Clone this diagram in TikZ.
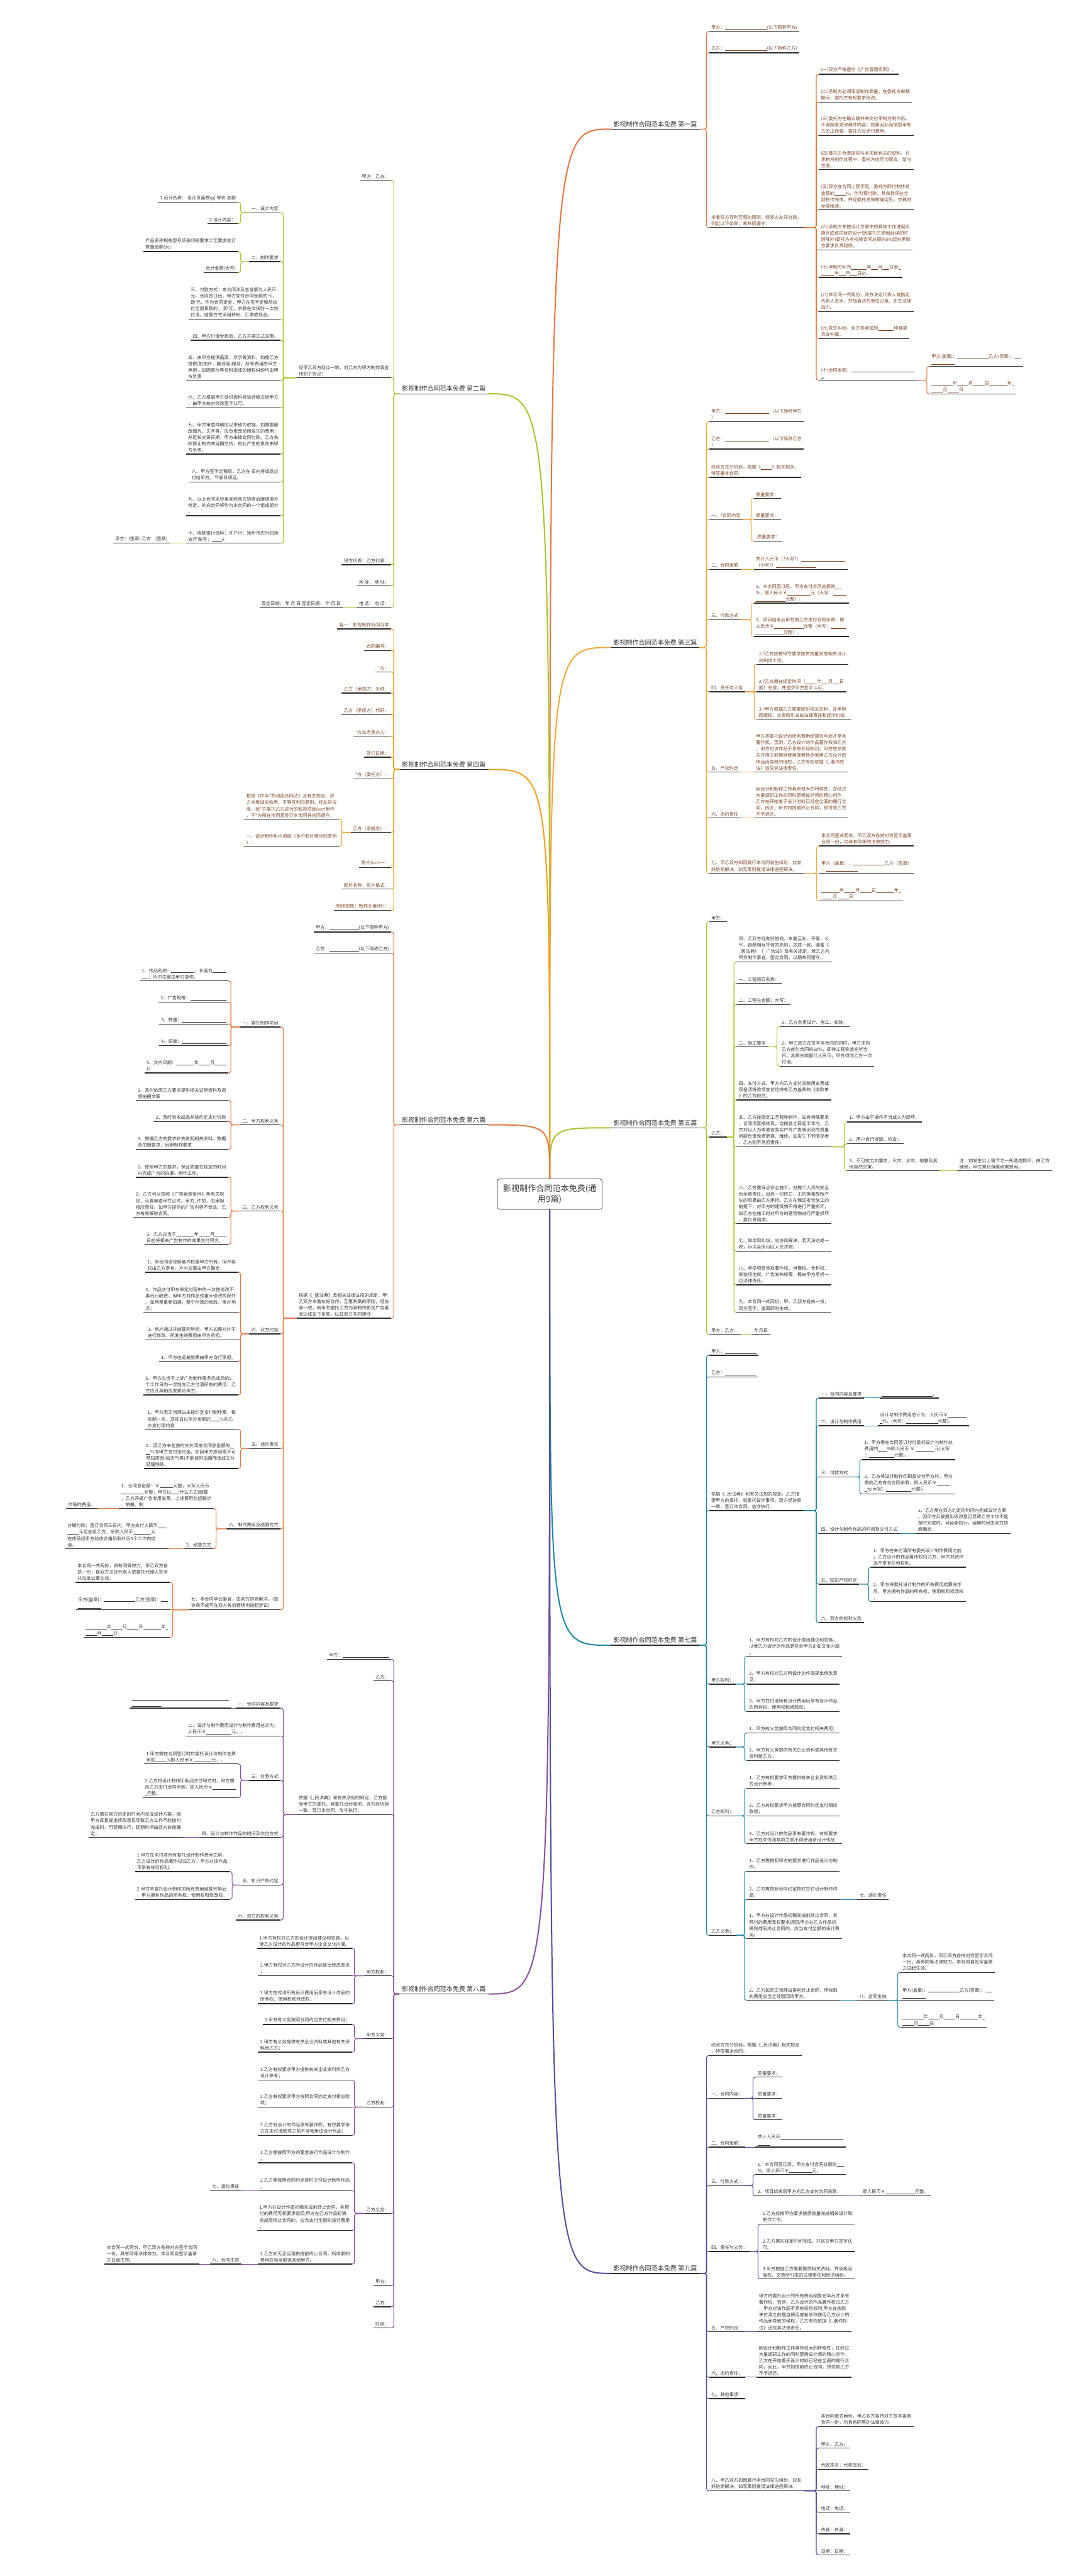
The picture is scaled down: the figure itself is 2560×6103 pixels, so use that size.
\documentclass[tikz,border=0pt]{standalone}
\usepackage{fontspec}
\setmainfont{Noto Sans CJK SC}
\usetikzlibrary{positioning}
\usepackage{xcolor}
\definecolor{lnRed}{HTML}{E8773F}
\definecolor{lnLime}{HTML}{A8C62C}
\definecolor{lnGold}{HTML}{F2A73A}
\definecolor{lnAmber}{HTML}{F0A11E}
\definecolor{lnTeal}{HTML}{1D87A5}
\definecolor{lnPlum}{HTML}{8B4F9C}
\definecolor{lnNavy}{HTML}{50509A}
\definecolor{txBrown}{HTML}{7B4421}
\definecolor{txDark}{HTML}{333333}
\definecolor{ulDark}{HTML}{2B2B2B}
\newcommand{\lfont}{\fontsize{10.7}{15}\selectfont}
\newcommand{\hfont}{\fontsize{15}{19}\selectfont}
\newcommand{\cfont}{\fontsize{19.5}{26}\selectfont}
\newcommand{\blank}[1]{\rule[-1pt]{#1pt}{0.6pt}}

\begin{document}
\begin{tikzpicture}[
  x=1pt, y=-1pt,
  ul/.style={append after command={(\tikzlastnode.south west) edge[draw=ulDark, line width=2] (\tikzlastnode.south east)}},
  lf/.style={anchor=south west, align=left, font=\lfont, text=txDark, inner xsep=5, inner ysep=4, ul},
  lfl/.style={lf, anchor=south east},
  hd/.style={anchor=south west, font=\hfont, text=txDark, inner xsep=6, inner ysep=5, ul},
  hdl/.style={hd, anchor=south east},
  hub/.style={draw=gray!60!black, rounded corners=6, line width=1.2, fill=white, font=\cfont,
              text=txDark, align=center, minimum width=249, minimum height=72},
  br/.style={draw=#1, line width=3},
  cn/.style={draw=#1, line width=1.6, rounded corners=5}
]
\useasboundingbox (0,0) rectangle (2560,6103);
\fill[white] (0,0) rectangle (2560,6103);

\node[hub] (root) at (1302.5,2829) {影视制作合同范本免费(通\\用9篇)};

\node[hd] (a) at (1447,306) {影视制作合同范本免费 第一篇};
\node[hdl] (b) at (1157,933) {影视制作合同范本免费 第二篇};
\node[hd] (c) at (1447,1534) {影视制作合同范本免费 第三篇};
\node[hdl] (d) at (1157,1823) {影视制作合同范本免费 第四篇};
\node[hd] (e) at (1447,2672) {影视制作合同范本免费 第五篇};
\node[hdl] (f) at (1157,2665) {影视制作合同范本免费 第六篇};
\node[hd] (g) at (1447,3898) {影视制作合同范本免费 第七篇};
\node[hdl] (h) at (1157,4724) {影视制作合同范本免费 第八篇};
\node[hd] (k) at (1447,5386) {影视制作合同范本免费 第九篇};

\draw[br=lnRed] (root.north) .. controls (root.north |- a.south west) .. (a.south west);
\draw[br=lnLime] (root.north) .. controls (root.north |- b.south east) .. (b.south east);
\draw[br=lnGold] (root.north) .. controls (root.north |- c.south west) .. (c.south west);
\draw[br=lnAmber] (root.north) .. controls (root.north |- d.south east) .. (d.south east);
\draw[br=lnLime] (root.north) .. controls (root.north |- e.south west) .. (e.south west);
\draw[br=lnRed] (root.north) .. controls (root.north |- f.south east) .. (f.south east);
\draw[br=lnTeal] (root.south) .. controls (root.south |- g.south west) .. (g.south west);
\draw[br=lnPlum] (root.south) .. controls (root.south |- h.south east) .. (h.south east);
\draw[br=lnNavy] (root.south) .. controls (root.south |- k.south west) .. (k.south west);

\begin{scope}[lf/.append style={text=txBrown}]
\node[lf] (a1) at (1680,75) {甲方：\blank{100}(以下简称甲方)};
\node[lf] (a2) at (1680,125) {乙方：\blank{100}(以下简称乙方)};
\node[lf] (a3) at (1680,539) {本着双方互利互惠的原则，经双方友好协商，\\列定以下条款，希共同遵守：};
\node[lf] (a3a) at (1940,176) {(一)双方严格遵守《广告管理条例》。};
\node[lf] (a3b) at (1940,242) {(二)承制方必须保证制作质量，在委托方审稿\\期间，委托方有权要求修改。};
\node[lf] (a3c) at (1940,321) {(三)委托方在确认稿件并交付承制方制作后，\\不得随意更改稿件内容，如果因此而增加承制\\方的工作量，委托方应另付费用。};
\node[lf] (a3d) at (1940,402) {(四)委托方负责提供与本项目有关的资料，在\\承制方制作过程中，委托方应尽力配合，给与\\方便。};
\node[lf] (a3e) at (1940,497) {(五)双方在合同上签字后，委托方即付制作总\\金额的\blank{26}\%，作为预付款，其余款项在全\\部制作完成，并经委托方审核确定后，交稿时\\全部结清。};
\node[lf] (a3f) at (1940,592) {(六)承制方未按设计方案中的具体工作进程实\\施完成该项目的设计(因委托方原因延误的时\\间除外)委托方有权按合同总额的5\%起向承制\\方要求负责赔偿。};
\node[lf] (a3g) at (1940,657) {(七)承制时间为\blank{37}年\blank{16}月\blank{16}日至\blank{5}\\\blank{32}年\blank{16}月\blank{16}日止。};
\node[lf] (a3h) at (1940,738) {(八)本合同一式两份，双方法定代表人或指定\\代表人签字，并加盖双方单位公章，即生法律\\效力。};
\node[lf] (a3i) at (1940,802) {(九)发生纠纷，双方协商或到\blank{37}仲裁委\\员会仲裁。};
\node[lf] (a3j) at (1940,901) {(十)合同金额：\blank{150}\\\blank{5}。};
\node[lf] (a3j1) at (2202,868) {甲方(盖章)：\blank{75}乙方(签章)：\blank{16}\\\blank{55}};
\node[lf] (a3j2) at (2202,933) {\blank{50}年\blank{27}月\blank{27}日\blank{43}年\blank{5}\\\blank{27}月\blank{27}日};

\node[lf] (c1) at (1680,999) {甲方：\blank{105} （以下简称甲方\\）};
\node[lf] (c2) at (1680,1064) {乙方：\blank{105} （以下简称乙方\\）};
\node[lf] (c3) at (1680,1131) {经双方充分协商，根据《\blank{26}》相关规定，\\特签署本合同。};
\node[lf] (c4) at (1680,1231) {一、?合同内容};
\node[lf] (c4a) at (1786,1181) {质量要求：};
\node[lf] (c4b) at (1786,1231) {质量要求：};
\node[lf] (c4c) at (1786,1282) {;质量要求：};
\node[lf] (c5) at (1680,1349) {二、合同金额};
\node[lf] (c5a) at (1786,1349) {共计人民币（?大写?）\blank{105}\\（小写?）\blank{95}};
\node[lf] (c6) at (1680,1468) {三、付款方式};
\node[lf] (c6a) at (1786,1429) {1、本合同签订后，甲方支付合同总额的\blank{16}\\\%，即人民币￥\blank{55}元（大写：\blank{32}\\\blank{70}元整）。};
\node[lf] (c6b) at (1786,1508) {2、项目结束后甲方向乙方支付合同余款，即\\人民币￥\blank{70}元整（大写：\blank{38}\\\blank{65}元整）。};
\node[lf] (c7) at (1680,1639) {四、责任与义务};
\node[lf] (c7a) at (1793,1574) {1.?乙方应按甲方要求按质按量完成相关设计\\和制作工作。};
\node[lf] (c7b) at (1793,1639) {2.?乙方需在规定时间（\blank{27}年\blank{16}月\blank{16}日\\前）完成，并送交甲方签字认可。};
\node[lf] (c7c) at (1793,1704) {3.?甲方根据乙方需要提供相关资料，并承担\\因版权、文责所引发的法律责任和经济纠纷。};
\node[lf] (c8) at (1680,1829) {五、产权约定};
\node[lf] (c8a) at (1786,1829) {甲方将委托设计的所有费用结算完毕后才享有\\著作权，否则，乙方设计的作品著作权归乙方\\，甲方对该作品不享有任何权利；甲方在余款\\未付清之前擅自使用或者修改使用乙方设计的\\作品而导致的侵权，乙方有权依据《\_著作权\\法》追究其法律责任。};
\node[lf] (c9) at (1680,1938) {六、违约责任};
\node[lf] (c9a) at (1786,1938) {因设计和制作工作具有很大的特殊性，在经过\\大量调研工作的同时更需设计师的精心创作，\\乙方在开始着手设计时就已经在全面的履行合\\同，因此，甲方如提前终止合同，预付款乙方\\不予退还。};
\node[lf] (c10) at (1680,2069) {七、甲乙双方如因履行本合同发生纠纷，应友\\好协商解决，如无果则提请法律途径解决。};
\node[lf] (c10a) at (1941,2004) {本合同壹式两份，甲乙双方各持对方签字盖章\\合同一份，均具有同等的法律效力。};
\node[lf] (c10b) at (1941,2069) {甲方（盖章）：\blank{75}乙方（签章）\\：\blank{75}};
\node[lf] (c10c) at (1941,2134) {\blank{43}年\blank{27}月\blank{27}日\blank{43}年\blank{5}\\\blank{27}月\blank{27}日};

\node[lfl] (d1) at (927,1490) {篇一：影视制作合同范本};
\node[lfl] (d2) at (927,1541) {合同编号：};
\node[lfl] (d3) at (927,1592) {*方：};
\node[lfl] (d4) at (927,1642) {乙方（承揽方）名称：};
\node[lfl] (d5) at (927,1693) {乙方（承揽方）代码：};
\node[lfl] (d6) at (927,1744) {*方业务承办人：};
\node[lfl] (d7) at (927,1794) {签订日期：};
\node[lfl] (d8) at (927,1845) {*方（委托方）：};
\node[lfl] (d9) at (927,1972) {乙方（承揽方）：};
\node[lfl] (d9a) at (803,1941) {根据《中华*共和国合同法》及有关规定，双\\方本着诚实信用、平等互利的原则，经友好协\\商，就*方委托乙方进行的影视项目(vcr)制作\\，于*方所在地同意签订本合同并共同遵守。};
\node[lfl] (d9b) at (803,2005) {一、设计制作影片项目（多个影片需分别罗列\\）：};
\node[lfl] (d10) at (927,2055) {影片(vcr)一：};
\node[lfl] (d11) at (927,2106) {影片名称：影片格式：};
\node[lfl] (d12) at (927,2157) {制作规格：制作长度(秒)：};
\end{scope}

\node[lfl] (b1) at (927,427) {甲方：乙方：};
\node[lfl] (b2) at (927,895) {经甲乙双方商议一致，对乙方为甲方制作事宜\\作如下协议：};
\node[lfl] (b2a) at (665,504) {一、设计内容};
\node[lfl] (b2a1) at (564,479) {1.设计名称：\ 设计页面数(p) 单价 总额};
\node[lfl] (b2a2) at (564,530) {2.设计内容：};
\node[lfl] (b2b) at (665,620) {二、制作要求};
\node[lfl] (b2b1) at (564,596) {产品名称规格型号纸张印刷要求工艺要求装订\\数量金额(元)};
\node[lfl] (b2b2) at (564,646) {合计金额(大写)};
\node[lfl] (b2c) at (665,756) {三、付款方式：本合同涉及总金额为人民币\\元，合同签订后，甲方支付合同金额的 \%，\\即 元，作为合同定金，甲方在签字定稿后应\\付全部货款的 ，即 元，余额在交货时一次性\\付清。结算方式采用转帐、汇票或现金。};
\node[lfl] (b2d) at (665,806) {四、甲方付清全款后，乙方开据正式发票。};
\node[lfl] (b2e) at (665,901) {五、由甲方提供画面、文字等资料，如需乙方\\提供(如拍片、翻译等)服务，所有费用由甲方\\承担，如因照片等资料造成的版权纠纷均由甲\\方负责};
\node[lfl] (b2f) at (665,966) {六、乙方根据甲方提供资料将设计稿交给甲方\\，由甲方校对修改签字认可。};
\node[lfl] (b2g) at (665,1076) {七、甲方审查样稿应以来稿为依据，如需要删\\改图片、文字等，应负责改动所发生的费用，\\并延长交货日期，甲方未按合同付款，乙方有\\权停止制作并延期交货，由此产生的责任由甲\\方负责。};
\node[lfl] (b2h) at (665,1142) {八、甲方签字定稿后，乙方在 日内将成品交\\付给甲方，节假日顺延。};
\node[lfl] (b2i) at (665,1222) {九、以上合同未尽事宜经双方协商后继续增补\\修定，补充合同将作为本合同的一个组成部分\\。};
\node[lfl] (b2j) at (665,1287) {十、收款银行资料：开户行：扬州市农行润扬\\支行 账号：\blank{25}x};
\node[lfl] (b2j1) at (402,1287) {甲方：(签章) 乙方：(签章)};
\node[lfl] (b3) at (927,1338) {甲方代表：乙方代表：};
\node[lfl] (b4) at (927,1388) {地 址： 地 址：};
\node[lfl] (b5) at (927,1439) {电 话： 电 话：};
\node[lfl] (b5a) at (813,1439) {签定日期： 年 月 日 签定日期： 年 月 日};

\node[lf] (e1) at (1680,2184) {甲方：};
\node[lf] (e2) at (1680,2694) {乙方：};
\node[lf] (e2a) at (1745,2279) {甲、乙双方经友好协商，本着互利、平等、公\\平、自愿相互守信的原则，达成一致。遵循《\\\_民法典》《\_广告法》及有关规定，就乙方为\\甲方制作事宜，签定合同，以期共同遵守。};
\node[lf] (e2b) at (1745,2330) {一、工程项目名称：};
\node[lf] (e2c) at (1745,2380) {二、工程总金额：大写：};
\node[lf] (e2d) at (1745,2480) {三、施工要求};
\node[lf] (e2d1) at (1847,2432) {1、乙方负责设计、施工、安装。};
\node[lf] (e2d2) at (1847,2526) {2、甲乙双方在签写本合同的同时，甲方须向\\乙方首付合同的50\%，即待工程安装完毕当\\日，其剩余款额计人民币，甲方须向乙方一次\\付清。};
\node[lf] (e2e) at (1745,2606) {四、支付方式：甲方向乙方支付货款用支票或\\现金须将款项支付给持有乙方盖章的《收款单\\》的乙方职员。};
\node[lf] (e2f) at (1745,2717) {五、乙方按固定工艺程序制作，如有特殊要求\\，合同须直接体现，自按装之日起半年内，乙\\方对以人为本诚信务实户外广告牌出现的质量\\问题负责免费更换、维修，如发生下列情况者\\，乙方则不承担责任：};
\node[lf] (e2f1) at (2007,2658) {1、甲方由于操作不当或人为损坏；};
\node[lf] (e2f2) at (2007,2710) {2、用户自行拆卸、检查；};
\node[lf] (e2f3) at (2007,2774) {3、不可抗力如雷击、火灾、水灾、地震及其\\他自然灾害。};
\node[lf] (e2f3a) at (2268,2774) {注：如发生以上情节之一所造成损坏，由乙方\\维修，甲方需负担维修需费用。};
\node[lf] (e2g) at (1745,2899) {六、乙方要保证安全施工，对施工人员的安全\\负全部责任，出现一切伤亡、工伤等事故所产\\生的后果由乙方承担。乙方在保证安全施工的\\前提下，对甲方的建筑物不得进行严重损坏，\\如乙方在施工时对甲方的建筑物进行严重损坏\\，要负责赔偿。};
\node[lf] (e2h) at (1745,2964) {七、如出现纠纷，应协商解决，若无法达成一\\致，诉讼至房山区人民法院。};
\node[lf] (e2i) at (1745,3044) {八、承揽项目涉及著作权、肖像权、专利权、\\安装场地权、广告发布权等，概由甲方承担一\\切法律责任。};
\node[lf] (e2j) at (1745,3109) {九、本合同一式两份，甲、乙双方各执一份，\\双方签字，盖章即时生效。};
\node[lf] (e3) at (1680,3161) {甲方：乙方：};
\node[lf] (e3a) at (1782,3161) {年月日};

\node[lfl] (f1) at (927,2208) {甲方：\blank{70}(以下简称甲方)};
\node[lfl] (f2) at (927,2258) {乙方：\blank{70}(以下简称乙方)};
\node[lfl] (f3) at (927,3123) {根据《\_民法典》及相关法律法规的规定，甲\\乙双方本着友好合作，互惠共赢的原则，经协\\商一致，就甲方委托乙方为其制作影视广告事\\宜达成如下条款，以兹双方共同遵守：};
\node[lfl] (f3a) at (665,2433) {一、委托制作项目};
\node[lfl] (f3a1) at (541,2324) {1、作品名称：\blank{55}，长度为\blank{32}\\\blank{16}，片中文案由甲方提供。};
\node[lfl] (f3a2) at (541,2374) {2、广告规格：\blank{85}};
\node[lfl] (f3a3) at (541,2426) {3、数量：\blank{105}};
\node[lfl] (f3a4) at (541,2477) {4、语版：\blank{105}};
\node[lfl] (f3a5) at (541,2542) {5、交片日期：\blank{43}年\blank{27}月\blank{27}\\日};
\node[lfl] (f3b) at (665,2665) {二、甲方权利义务};
\node[lfl] (f3b1) at (541,2607) {1、及时依照乙方要求提供相关证明资料及视\\频拍摄文案};
\node[lfl] (f3b2) at (541,2657) {2、及时验收成品并按约定支付价款};
\node[lfl] (f3b3) at (541,2723) {3、根据乙方的要求补充说明相关资料、数据\\及拍摄要求，后期制作要求};
\node[lfl] (f3c) at (665,2869) {三、乙方权利义务};
\node[lfl] (f3c1) at (541,2789) {1、按照甲方的要求，保证质量在规定的时间\\内完成广告的拍摄、制作工作。};
\node[lfl] (f3c2) at (541,2884) {2、乙方可以按照《广告管理条例》等有关规\\定，认真审查甲方证件。甲方\_件的，应承担\\相应责任。如甲方提供的广告内容不合法，乙\\方有权解除合同。};
\node[lfl] (f3c3) at (541,2948) {3、乙方应当于\blank{43}年\blank{27}月\blank{27}\\日前将相关广告制作的成果交付甲方。};
\node[lfl] (f3d) at (665,3160) {四、双方约定};
\node[lfl] (f3d1) at (564,3014) {1、本合同该视频著作权属甲方所有，但评奖\\权由乙方享有，片中文案由甲方确定。};
\node[lfl] (f3d2) at (564,3109) {2、作品交付甲方审定过程中的一次性修改不\\再另行收费，但甲方对作品作重大修改的除外\\。如场景重新拍摄，整个创意的修改。审片地\\点：};
\node[lfl] (f3d3) at (564,3174) {3、审片通过并结算完毕后，甲方如需对片子\\进行修改，所发生的费用由甲方承担。};
\node[lfl] (f3d4) at (564,3225) {4、甲方往返差旅费由甲方自行承担。};
\node[lfl] (f3d5) at (564,3305) {5、甲方应当于上诉广告制作服务完成后的5\\个工作日内一次性向乙方付清所有的费用，乙\\方应开具相应发票给甲方。};
\node[lfl] (f3e) at (665,3432) {五、违约责任};
\node[lfl] (f3e1) at (564,3386) {1、甲方无正当理由未按约定支付制作费，每\\逾期一天，须按日以拖欠金额的\blank{21}\%向乙\\方支付违约金};
\node[lfl] (f3e2) at (564,3479) {2、因乙方未能按时交片须按合同总金额的\blank{10}\\\blank{10}\%向甲方支付违约金，如因甲方原因或不可\\预知原因(如天气等)不能按时拍摄而造成交片\\延缓除外。};
\node[lfl] (f3f) at (665,3622) {六、制作费用及结算方式};
\node[lfl] (f3f1) at (506,3574) {1、合同总金额：￥\blank{32}元整，大写人民币\\\blank{55}元整，甲方以\blank{16}(什么方式)结算\\，乙方开据广告专用发票。上述费用包括脚步\\、拍摄、制};
\node[lfl] (f3f1a) at (231,3574) {作等的费用。};
\node[lfl] (f3f2) at (506,3669) {2、结算方式};
\node[lfl] (f3f2a) at (400,3669) {分期付款：签订合同三日内，甲方支付人民币\blank{21}\\\blank{27}元定金给乙方，余款人民币\blank{43}元\\在成品经甲方验收合格后取片后5个工作内结\\清。};
\node[lfl] (f3g) at (665,3814) {七、本合同争议事宜，由双方协商解决。(如\\协商不成可在双方各自管辖地提起诉讼)};
\node[lfl] (f3g1) at (403,3749) {本合同一式两份，具有同等效力，甲乙双方各\\执一份，自双方法定代表人或委托代理人签字\\并加盖公章生效。};
\node[lfl] (f3g2) at (403,3814) {甲方(盖章)：\blank{75}乙方(签章)：\blank{16}\\\blank{55}};
\node[lfl] (f3g3) at (403,3879) {\blank{50}年\blank{27}月\blank{27}日\blank{43}年\blank{5}\\\blank{27}月\blank{27}日};

\node[lf] (g1) at (1680,3211) {甲方：\blank{75}};
\node[lf] (g2) at (1680,3262) {乙方：\blank{75}};
\node[lf] (g3) at (1680,3579) {依据《\_民法典》和有关法规的规定，乙方接\\受甲方的委托，就委托设计事项，双方经协商\\一致，签订本合同，信守执行：};
\node[lf] (g3a) at (1940,3312) {一、合同内容及要求};
\node[lf] (g3a1) at (2084,3312) {\blank{120}。};
\node[lf] (g3b) at (1940,3378) {二、设计与制作费用};
\node[lf] (g3b1) at (2080,3378) {设计与制作费用总计为：人民币￥\blank{45}\\\blank{5}元，(大写：\blank{75}元整)。};
\node[lf] (g3c) at (1940,3499) {三、付款方式};
\node[lf] (g3c1) at (2043,3458) {1、甲方需在合同签订时付委托设计与制作总\\费用的\blank{21}\%即人民币 ￥ \blank{45}元(大写\\：\blank{60}元整)。};
\node[lf] (g3c2) at (2043,3539) {2、乙方将设计制作印刷品交付甲方时，甲方\\需向乙方支付合同余款，即人民币￥\blank{32}\\\blank{5}元(大写：\blank{60}元整)。};
\node[lf] (g3d) at (1940,3633) {四、设计与制作作品的时间及交付方式};
\node[lf] (g3d1) at (2170,3633) {1、乙方需在双方约定的时间内完成设计方案\\。因甲方反复提出修改意见导致乙方工作不能\\按时完成时，可延期执行，延期时间由双方协\\商确定。};
\node[lf] (g3e) at (1940,3753) {五、知识产权约定};
\node[lf] (g3e1) at (2064,3713) {1、甲方在未付清所有委托设计制作费用之前\\，乙方设计的作品著作权归乙方，甲方对该作\\品不享有任何权利。};
\node[lf] (g3e2) at (2064,3794) {2、甲方将委托设计制作的所有费用结算完毕\\后，甲方拥有作品的所有权、使用权和修改权\\。};
\node[lf] (g3f) at (1940,3844) {六、双方的权利义务};
\node[lf] (g4) at (1680,3990) {甲方权利：};
\node[lf] (g4a) at (1770,3924) {1、甲方有权对乙方的设计提出建议和思路，\\以使乙方设计的作品更符合甲方企业文化内涵\\。};
\node[lf] (g4b) at (1770,3990) {2、甲方有权对乙方所设计的作品提出修改意\\见；};
\node[lf] (g4c) at (1770,4055) {3、甲方在付清所有设计费用后享有设计作品\\的所有权、使用权和修改权；};
\node[lf] (g5) at (1680,4139) {甲方义务：};
\node[lf] (g5a) at (1770,4106) {1、甲方有义务按照合同约定支付相关费用；};
\node[lf] (g5b) at (1770,4171) {2、甲方有义务提供有关企业资料或其他有关\\资料给乙方；};
\node[lf] (g6) at (1680,4302) {乙方权利：};
\node[lf] (g6a) at (1770,4237) {1、乙方有权要求甲方提供有关企业资料供乙\\方设计参考；};
\node[lf] (g6b) at (1770,4302) {2、乙方有权要求甲方按照合同约定支付相应\\款项；};
\node[lf] (g6c) at (1770,4368) {3、乙方对设计的作品享有著作权，有权要求\\甲方在未付清款项之前不得使用该设计作品：};
\node[lf] (g7) at (1680,4585) {乙方义务：};
\node[lf] (g7a) at (1770,4433) {1、乙方需按照甲方的要求进行作品设计与制\\作。};
\node[lf] (g7b) at (1770,4500) {2、乙方需按照合同约定按时交付设计制作作\\品。};
\node[lf] (g7b1) at (2031,4500) {七、违约责任};
\node[lf] (g7c) at (1770,4593) {1、甲方在设计作品初稿完成前终止合同，其\\预付的费用无权要求退回;甲方在乙方作品初\\稿完成后终止合同的，应当支付全额的设计费\\用。};
\node[lf] (g7d) at (1770,4739) {2、乙方如无正当理由提前终止合同，所收取\\的费用应当全部退回给甲方。};
\node[lf] (g7d1) at (2031,4739) {八、合同生效};
\node[lf] (g7d1a) at (2133,4673) {本合同一式两份，甲乙双方各持对方签字合同\\一份，具有同等法律效力。本合同自签字盖章\\之日起生效。};
\node[lf] (g7d1b) at (2133,4739) {甲方(盖章)：\blank{75}乙方(签章)：\blank{16}\\\blank{55}};
\node[lf] (g7d1c) at (2133,4803) {\blank{50}年\blank{27}月\blank{27}日\blank{43}年\blank{5}\\\blank{27}月\blank{27}日};

\node[lfl] (h1) at (927,3931) {甲方：\blank{110}};
\node[lfl] (h2) at (927,3982) {乙方：};
\node[lfl] (h3) at (927,4299) {依据《\_民法典》和有关法规的规定，乙方接\\受甲方的委托，就委托设计事项，双方经协商\\一致，签订本合同，信守执行：};
\node[lfl] (h3a) at (665,4047) {一、合同内容及要求};
\node[lfl] (h3a1) at (548,4047) {\blank{230}\\\blank{68}};
\node[lfl] (h3b) at (665,4113) {二、设计与制作费用设计与制作费用总计为：\\人民币￥\blank{60}元，。};
\node[lfl] (h3c) at (665,4218) {三、付款方式};
\node[lfl] (h3c1) at (564,4179) {1.甲方需在合同签订时付委托设计与制作总费\\用的\blank{27}\%即人民币￥\blank{43}元，。};
\node[lfl] (h3c2) at (564,4259) {2.乙方将设计制作印刷品交付甲方时，甲方需\\向乙方支付合同余款，即人民币￥\blank{55}\\\blank{5}元整。};
\node[lfl] (h3d) at (665,4353) {四、设计与制作作品的时间及交付方式};
\node[lfl] (h3d1) at (434,4353) {乙方需在双方约定的时间内完成设计方案。因\\甲方反复提出修改意见导致乙方工作不能按时\\完成时，可延期执行，延期时间由双方协商确\\定。};
\node[lfl] (h3e) at (665,4466) {五、知识产权约定};
\node[lfl] (h3e1) at (544,4434) {1.甲方在未付清所有委托设计制作费用之前，\\乙方设计的作品著作权归乙方，甲方对该作品\\不享有任何权利。};
\node[lfl] (h3e2) at (544,4500) {2.甲方将委托设计制作的所有费用结算完毕后\\，甲方拥有作品的所有权、使用权和修改权。};
\node[lfl] (h3f) at (665,4549) {六、双方的权利义务};
\node[lfl] (h4) at (927,4681) {甲方权利：};
\node[lfl] (h4a) at (834,4616) {1.甲方有权对乙方的设计提出建议和思路，以\\使乙方设计的作品更符合甲方企业文化内涵。};
\node[lfl] (h4b) at (834,4681) {2.甲方有权对乙方所设计的作品提出修改意见\\；};
\node[lfl] (h4c) at (834,4747) {3.甲方在付清所有设计费用后享有设计作品的\\所有权、使用权和修改权；};
\node[lfl] (h5) at (927,4830) {甲方义务：};
\node[lfl] (h5a) at (834,4796) {1.甲方有义务按照合同约定支付相关费用；};
\node[lfl] (h5b) at (834,4862) {2.甲方有义务提供有关企业资料或其他有关资\\料给乙方；};
\node[lfl] (h6) at (927,4992) {乙方权利：};
\node[lfl] (h6a) at (834,4928) {1.乙方有权要求甲方提供有关企业资料供乙方\\设计参考；};
\node[lfl] (h6b) at (834,4992) {2.乙方有权要求甲方按照合同约定支付相应款\\项；};
\node[lfl] (h6c) at (834,5059) {3.乙方对设计的作品享有著作权，有权要求甲\\方在未付清款项之前不得使用该设计作品：};
\node[lfl] (h7) at (927,5244) {乙方义务：};
\node[lfl] (h7a) at (834,5124) {1.乙方需按照甲方的要求进行作品设计与制作\\。};
\node[lfl] (h7b) at (834,5190) {2.乙方需按照合同约定按时交付设计制作作品\\。};
\node[lfl] (h7b1) at (572,5190) {七、违约责任};
\node[lfl] (h7c) at (834,5284) {1.甲方在设计作品初稿完成前终止合同，其预\\付的费用无权要求退回;甲方在乙方作品初稿\\完成后终止合同的，应当支付全额的设计费用\\。};
\node[lfl] (h7d) at (834,5364) {2.乙方如无正当理由提前终止合同，所收取的\\费用应当全部退回给甲方。};
\node[lfl] (h7d1) at (572,5364) {八、合同生效};
\node[lfl] (h7d1a) at (472,5364) {本合同一式两份，甲乙双方各持对方签字合同\\一份，具有同等法律效力。本合同自签字盖章\\之日起生效。};
\node[lfl] (h8) at (927,5415) {甲方：};
\node[lfl] (h9) at (927,5465) {乙方：};
\node[lfl] (h10) at (927,5515) {时间：};

\node[lf] (k1) at (1680,4870) {经双方充分协商，根据《\_民法典》相关规定\\，特签署本合同。};
\node[lf] (k2) at (1680,4971) {一、合同内容：};
\node[lf] (k2a) at (1790,4921) {质量要求：};
\node[lf] (k2b) at (1790,4971) {质量要求：};
\node[lf] (k2c) at (1790,5022) {质量要求：};
\node[lf] (k3) at (1680,5087) {二、合同金额：};
\node[lf] (k3a) at (1790,5087) {共计人民币\blank{150}\\\blank{30}};
\node[lf] (k4) at (1680,5178) {三、付款方式：};
\node[lf] (k4a) at (1790,5152) {1、本合同签订后，甲方支付合同总额的\blank{16}\\\%，即人民币￥\blank{55}元。};
\node[lf] (k4b) at (1790,5202) {2、项目结束后甲方向乙方支付合同余款，};
\node[lf] (k4b1) at (2039,5202) {即人民币￥\blank{70}元整。};
\node[lf] (k5) at (1680,5334) {四、责任与义务：};
\node[lf] (k5a) at (1802,5269) {1.乙方应按甲方要求按质按量完成相关设计和\\制作工作。};
\node[lf] (k5b) at (1802,5334) {2.乙方需在规定时间完成，并送交甲方签字认\\可。};
\node[lf] (k5c) at (1802,5399) {3.甲方根据乙方需要提供相关资料，并承担因\\版权、文责所引发的法律责任和经济纠纷。};
\node[lf] (k6) at (1680,5524) {五、产权约定：};
\node[lf] (k6a) at (1793,5524) {甲方将委托设计的所有费用结算完毕后才享有\\著作权，否则，乙方设计的作品著作权归乙方\\，甲方对该作品不享有任何权利;甲方在余款\\未付清之前擅自使用或者修改使用乙方设计的\\作品而导致的侵权，乙方有权依据《\_著作权\\法》追究其法律责任。};
\node[lf] (k7) at (1680,5632) {六、违约责任：};
\node[lf] (k7a) at (1793,5632) {因设计和制作工作具有很大的特殊性，在经过\\大量调研工作的同时更需设计师的精心创作，\\乙方在开始着手设计时就已经在全面的履行合\\同，因此，甲方如提前终止合同，预付款乙方\\不予退还。};
\node[lf] (k8) at (1680,5683) {七、其他事项：};
\node[lf] (k9) at (1680,5901) {八、甲乙双方如因履行本合同发生纠纷，应友\\好协商解决，如无果则提请法律途径解决。};
\node[lf] (k9a) at (1940,5749) {本合同壹式两份，甲乙双方各持对方签字盖章\\合同一份，均具有同等的法律效力。};
\node[lf] (k9b) at (1940,5800) {甲方：乙方：};
\node[lf] (k9c) at (1940,5850) {代表签名：代表签名：};
\node[lf] (k9d) at (1940,5901) {地址：地址：};
\node[lf] (k9e) at (1940,5952) {电话：电话：};
\node[lf] (k9f) at (1940,6003) {传真：传真：};
\node[lf] (k9g) at (1940,6053) {日期：日期：};

\foreach \q in {a1,a2,a3} \draw[cn=lnRed] (a.south east) -| ([xshift=-6]\q.south west) -- (\q.south west);
\foreach \q in {a3a,a3b,a3c,a3d,a3e,a3f,a3g,a3h,a3i,a3j} \draw[cn=lnRed] (a3.south east) -| ([xshift=-6]\q.south west) -- (\q.south west);
\foreach \q in {a3j1,a3j2} \draw[cn=lnRed] (a3j.south east) -| ([xshift=-6]\q.south west) -- (\q.south west);

\foreach \q in {b1,b2,b3,b4,b5} \draw[cn=lnLime] (b.south west) -| ([xshift=6]\q.south east) -- (\q.south east);
\foreach \q in {b2a,b2b,b2c,b2d,b2e,b2f,b2g,b2h,b2i,b2j} \draw[cn=lnLime] (b2.south west) -| ([xshift=6]\q.south east) -- (\q.south east);
\foreach \q in {b2a1,b2a2} \draw[cn=lnLime] (b2a.south west) -| ([xshift=6]\q.south east) -- (\q.south east);
\foreach \q in {b2b1,b2b2} \draw[cn=lnLime] (b2b.south west) -| ([xshift=6]\q.south east) -- (\q.south east);
\draw[cn=lnLime] (b2j.south west) -- (b2j1.south east);
\draw[cn=lnLime] (b5.south west) -- (b5a.south east);

\foreach \q in {c1,c2,c3,c4,c5,c6,c7,c8,c9,c10} \draw[cn=lnGold] (c.south east) -| ([xshift=-6]\q.south west) -- (\q.south west);
\foreach \q in {c4a,c4c} \draw[cn=lnGold] (c4.south east) -| ([xshift=-6]\q.south west) -- (\q.south west);
\foreach \q in {c6a,c6b} \draw[cn=lnGold] (c6.south east) -| ([xshift=-6]\q.south west) -- (\q.south west);
\foreach \q in {c7a,c7c} \draw[cn=lnGold] (c7.south east) -| ([xshift=-6]\q.south west) -- (\q.south west);
\foreach \q in {c10a,c10c} \draw[cn=lnGold] (c10.south east) -| ([xshift=-6]\q.south west) -- (\q.south west);
\draw[cn=lnGold] (c4.south east) -- (c4b.south west);
\draw[cn=lnGold] (c5.south east) -- (c5a.south west);
\draw[cn=lnGold] (c7.south east) -- (c7b.south west);
\draw[cn=lnGold] (c8.south east) -- (c8a.south west);
\draw[cn=lnGold] (c9.south east) -- (c9a.south west);
\draw[cn=lnGold] (c10.south east) -- (c10b.south west);

\foreach \q in {d1,d2,d3,d4,d5,d6,d7,d8,d9,d10,d11,d12} \draw[cn=lnAmber] (d.south west) -| ([xshift=6]\q.south east) -- (\q.south east);
\foreach \q in {d9a,d9b} \draw[cn=lnAmber] (d9.south west) -| ([xshift=6]\q.south east) -- (\q.south east);

\foreach \q in {e1,e2,e3} \draw[cn=lnLime] (e.south east) -| ([xshift=-6]\q.south west) -- (\q.south west);
\foreach \q in {e2a,e2b,e2c,e2d,e2e,e2f,e2g,e2h,e2i,e2j} \draw[cn=lnLime] (e2.south east) -| ([xshift=-6]\q.south west) -- (\q.south west);
\foreach \q in {e2d1,e2d2} \draw[cn=lnLime] (e2d.south east) -| ([xshift=-6]\q.south west) -- (\q.south west);
\foreach \q in {e2f1,e2f2,e2f3} \draw[cn=lnLime] (e2f.south east) -| ([xshift=-6]\q.south west) -- (\q.south west);
\draw[cn=lnLime] (e2f3.south east) -- (e2f3a.south west);
\draw[cn=lnLime] (e3.south east) -- (e3a.south west);

\foreach \q in {f1,f2,f3} \draw[cn=lnRed] (f.south west) -| ([xshift=6]\q.south east) -- (\q.south east);
\foreach \q in {f3a,f3b,f3c,f3d,f3e,f3f,f3g} \draw[cn=lnRed] (f3.south west) -| ([xshift=6]\q.south east) -- (\q.south east);
\foreach \q in {f3a1,f3a2,f3a3,f3a4,f3a5} \draw[cn=lnRed] (f3a.south west) -| ([xshift=6]\q.south east) -- (\q.south east);
\foreach \q in {f3b1,f3b2,f3b3} \draw[cn=lnRed] (f3b.south west) -| ([xshift=6]\q.south east) -- (\q.south east);
\foreach \q in {f3c1,f3c2,f3c3} \draw[cn=lnRed] (f3c.south west) -| ([xshift=6]\q.south east) -- (\q.south east);
\foreach \q in {f3d1,f3d2,f3d3,f3d4,f3d5} \draw[cn=lnRed] (f3d.south west) -| ([xshift=6]\q.south east) -- (\q.south east);
\foreach \q in {f3e1,f3e2} \draw[cn=lnRed] (f3e.south west) -| ([xshift=6]\q.south east) -- (\q.south east);
\foreach \q in {f3f1,f3f2} \draw[cn=lnRed] (f3f.south west) -| ([xshift=6]\q.south east) -- (\q.south east);
\foreach \q in {f3g1,f3g3} \draw[cn=lnRed] (f3g.south west) -| ([xshift=6]\q.south east) -- (\q.south east);
\draw[cn=lnRed] (f3f1.south west) -- (f3f1a.south east);
\draw[cn=lnRed] (f3f2.south west) -- (f3f2a.south east);
\draw[cn=lnRed] (f3g.south west) -- (f3g2.south east);

\foreach \q in {g1,g2,g3,g4,g5,g6,g7} \draw[cn=lnTeal] (g.south east) -| ([xshift=-6]\q.south west) -- (\q.south west);
\foreach \q in {g3a,g3b,g3c,g3d,g3e,g3f} \draw[cn=lnTeal] (g3.south east) -| ([xshift=-6]\q.south west) -- (\q.south west);
\foreach \q in {g3c1,g3c2} \draw[cn=lnTeal] (g3c.south east) -| ([xshift=-6]\q.south west) -- (\q.south west);
\foreach \q in {g3e1,g3e2} \draw[cn=lnTeal] (g3e.south east) -| ([xshift=-6]\q.south west) -- (\q.south west);
\foreach \q in {g4a,g4c} \draw[cn=lnTeal] (g4.south east) -| ([xshift=-6]\q.south west) -- (\q.south west);
\foreach \q in {g5a,g5b} \draw[cn=lnTeal] (g5.south east) -| ([xshift=-6]\q.south west) -- (\q.south west);
\foreach \q in {g6a,g6c} \draw[cn=lnTeal] (g6.south east) -| ([xshift=-6]\q.south west) -- (\q.south west);
\foreach \q in {g7a,g7b,g7c,g7d} \draw[cn=lnTeal] (g7.south east) -| ([xshift=-6]\q.south west) -- (\q.south west);
\foreach \q in {g7d1a,g7d1c} \draw[cn=lnTeal] (g7d1.south east) -| ([xshift=-6]\q.south west) -- (\q.south west);
\draw[cn=lnTeal] (g3a.south east) -- (g3a1.south west);
\draw[cn=lnTeal] (g3b.south east) -- (g3b1.south west);
\draw[cn=lnTeal] (g3d.south east) -- (g3d1.south west);
\draw[cn=lnTeal] (g4.south east) -- (g4b.south west);
\draw[cn=lnTeal] (g6.south east) -- (g6b.south west);
\draw[cn=lnTeal] (g7b.south east) -- (g7b1.south west);
\draw[cn=lnTeal] (g7d.south east) -- (g7d1.south west);
\draw[cn=lnTeal] (g7d1.south east) -- (g7d1b.south west);

\foreach \q in {h1,h2,h3,h4,h5,h6,h7,h8,h9,h10} \draw[cn=lnPlum] (h.south west) -| ([xshift=6]\q.south east) -- (\q.south east);
\foreach \q in {h3a,h3b,h3c,h3d,h3e,h3f} \draw[cn=lnPlum] (h3.south west) -| ([xshift=6]\q.south east) -- (\q.south east);
\foreach \q in {h3c1,h3c2} \draw[cn=lnPlum] (h3c.south west) -| ([xshift=6]\q.south east) -- (\q.south east);
\foreach \q in {h3e1,h3e2} \draw[cn=lnPlum] (h3e.south west) -| ([xshift=6]\q.south east) -- (\q.south east);
\foreach \q in {h4a,h4c} \draw[cn=lnPlum] (h4.south west) -| ([xshift=6]\q.south east) -- (\q.south east);
\foreach \q in {h5a,h5b} \draw[cn=lnPlum] (h5.south west) -| ([xshift=6]\q.south east) -- (\q.south east);
\foreach \q in {h6a,h6c} \draw[cn=lnPlum] (h6.south west) -| ([xshift=6]\q.south east) -- (\q.south east);
\foreach \q in {h7a,h7b,h7c,h7d} \draw[cn=lnPlum] (h7.south west) -| ([xshift=6]\q.south east) -- (\q.south east);
\draw[cn=lnPlum] (h3a.south west) -- (h3a1.south east);
\draw[cn=lnPlum] (h3d.south west) -- (h3d1.south east);
\draw[cn=lnPlum] (h4.south west) -- (h4b.south east);
\draw[cn=lnPlum] (h6.south west) -- (h6b.south east);
\draw[cn=lnPlum] (h7b.south west) -- (h7b1.south east);
\draw[cn=lnPlum] (h7d.south west) -- (h7d1.south east);
\draw[cn=lnPlum] (h7d1.south west) -- (h7d1a.south east);

\foreach \q in {k1,k2,k3,k4,k5,k6,k7,k8,k9} \draw[cn=lnNavy] (k.south east) -| ([xshift=-6]\q.south west) -- (\q.south west);
\foreach \q in {k2a,k2c} \draw[cn=lnNavy] (k2.south east) -| ([xshift=-6]\q.south west) -- (\q.south west);
\foreach \q in {k4a,k4b} \draw[cn=lnNavy] (k4.south east) -| ([xshift=-6]\q.south west) -- (\q.south west);
\foreach \q in {k5a,k5c} \draw[cn=lnNavy] (k5.south east) -| ([xshift=-6]\q.south west) -- (\q.south west);
\foreach \q in {k9a,k9b,k9c,k9e,k9f,k9g} \draw[cn=lnNavy] (k9.south east) -| ([xshift=-6]\q.south west) -- (\q.south west);
\draw[cn=lnNavy] (k2.south east) -- (k2b.south west);
\draw[cn=lnNavy] (k3.south east) -- (k3a.south west);
\draw[cn=lnNavy] (k4b.south east) -- (k4b1.south west);
\draw[cn=lnNavy] (k5.south east) -- (k5b.south west);
\draw[cn=lnNavy] (k6.south east) -- (k6a.south west);
\draw[cn=lnNavy] (k7.south east) -- (k7a.south west);
\draw[cn=lnNavy] (k9.south east) -- (k9d.south west);
\end{tikzpicture}
\end{document}
